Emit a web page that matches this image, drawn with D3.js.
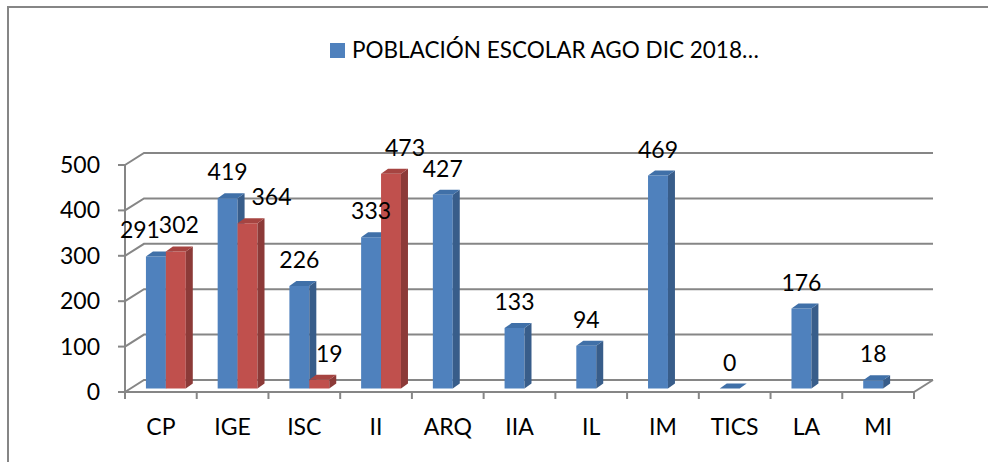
<!DOCTYPE html>
<html>
<head>
<meta charset="utf-8">
<script src="https://cdn.jsdelivr.net/npm/d3@7"></script>
<style>
  html, body { margin: 0; padding: 0; background: #fff; overflow: hidden; }
  svg { display: block; }
  text { font-family: Lato, 'Open Sans', sans-serif; fill: #000; }
</style>
</head>
<body>
<div id="chart"></div>
<script>
// data
const categories = ['CP', 'IGE', 'ISC', 'II', 'ARQ', 'IIA', 'IL', 'IM', 'TICS', 'LA', 'MI'];
const poblacionA = [291, 419, 226, 333, 427, 133, 94, 469, 0, 176, 18];
const poblacionB = [302, 364, 19, 473, null, null, null, null, null, null, null];
const yTicks = [0, 100, 200, 300, 400, 500];
const legendLabel = 'POBLACIÓN ESCOLAR AGO DIC 2018…';

const width = 988;
const height = 462;

// front plane of the 3D box and its depth offset
const x0 = 125, x1 = 914;
const depthX = 19, depthY = -12;
// bars sit inside the depth, with their own thickness
const barOffX = 5, barOffY = -3.5;
const barDepthX = 7, barDepthY = -5;

const grid = '#868686';
const colors = [
  { front: '#4F81BD', side: '#385D8A', top: '#4070A8' },
  { front: '#C0504D', side: '#8C3A38', top: '#A64441' }
];

// Excel moved a few labels sideways to avoid overlaps
const labelNudge = { '0-0': -16, '1-0': 3, '1-1': 24, '1-2': 10, '1-3': 14 };

const svg = d3.select('#chart')
  .append('svg')
  .attr('width', width)
  .attr('height', height);

// outer frame, only top and left edges show
svg.append('path')
  .attr('d', `M8,${height} L8,7 L${width},7`)
  .attr('fill', 'none')
  .attr('stroke', grid)
  .attr('stroke-width', 2);

const x = d3.scaleBand()
  .domain(categories)
  .range([x0, x1])
  .paddingInner(0)
  .paddingOuter(0);

const xs = d3.scaleBand()
  .domain([0, 1])
  .range([0, x.bandwidth()])
  .paddingInner(0)
  .paddingOuter(0.8);

const y = d3.scaleLinear()
  .domain([0, 500])
  .range([392, 165]);

const g = svg.append('g');

// gridlines: left wall diagonal + back wall horizontal
yTicks.forEach(t => {
  const yy = y(t);
  g.append('path')
    .attr('d', `M${x0},${yy} L${x0 + depthX},${yy + depthY} L${x1 + depthX},${yy + depthY}`)
    .attr('fill', 'none')
    .attr('stroke', grid)
    .attr('stroke-width', 2);
  // tick on the y axis
  g.append('line')
    .attr('x1', x0 - 7).attr('x2', x0)
    .attr('y1', yy).attr('y2', yy)
    .attr('stroke', grid).attr('stroke-width', 2);
});

// vertical axis line
g.append('line')
  .attr('x1', x0).attr('x2', x0)
  .attr('y1', y(500)).attr('y2', y(0) + 7)
  .attr('stroke', grid).attr('stroke-width', 2);

// floor front edge and right edge
g.append('path')
  .attr('d', `M${x0},${y(0)} L${x1},${y(0)} L${x1 + depthX},${y(0) + depthY}`)
  .attr('fill', 'none')
  .attr('stroke', grid)
  .attr('stroke-width', 2);

// category ticks
const tickXs = categories.map(c => x(c)).concat([x1]);
g.selectAll('.xtick')
  .data(tickXs)
  .enter()
  .append('line')
  .attr('class', 'xtick')
  .attr('x1', d => d).attr('x2', d => d)
  .attr('y1', y(0)).attr('y2', y(0) + 7)
  .attr('stroke', grid).attr('stroke-width', 2);

// y labels
g.selectAll('.ylab')
  .data(yTicks)
  .enter()
  .append('text')
  .attr('class', 'ylab')
  .attr('x', 100)
  .attr('y', d => y(d))
  .attr('dy', '0.35em')
  .attr('text-anchor', 'end')
  .style('font-size', '23px')
  .text(d => d);

// x labels
g.selectAll('.xlab')
  .data(categories)
  .enter()
  .append('text')
  .attr('class', 'xlab')
  .attr('x', d => x(d) + x.bandwidth() / 2)
  .attr('y', 435)
  .attr('text-anchor', 'middle')
  .style('font-size', '23px')
  .text(d => d);

// bars
const bars = [];
categories.forEach((c, i) => {
  [poblacionA, poblacionB].forEach((s, k) => {
    const v = s[i];
    if (v === null || v === undefined) return;
    bars.push({ cat: c, i, k, v });
  });
});

const barG = g.selectAll('.bar')
  .data(bars)
  .enter()
  .append('g')
  .attr('class', 'bar');

const bw = xs.bandwidth();

function geom(d) {
  const left = x(d.cat) + xs(d.k) + barOffX;
  const right = left + bw;
  const bottom = y(0) + barOffY;
  const top = y(d.v) + barOffY;
  return { left, right, bottom, top };
}

barG.append('path')
  .attr('d', d => {
    const b = geom(d);
    return `M${b.left},${b.bottom} L${b.left},${b.top} L${b.right},${b.top} L${b.right},${b.bottom} Z`;
  })
  .attr('fill', d => colors[d.k].front);

barG.append('path')
  .attr('d', d => {
    const b = geom(d);
    return `M${b.right},${b.bottom} L${b.right},${b.top} L${b.right + barDepthX},${b.top + barDepthY} L${b.right + barDepthX},${b.bottom + barDepthY} Z`;
  })
  .attr('fill', d => colors[d.k].side);

barG.append('path')
  .attr('d', d => {
    const b = geom(d);
    return `M${b.left},${b.top} L${b.left + barDepthX},${b.top + barDepthY} L${b.right + barDepthX},${b.top + barDepthY} L${b.right},${b.top} Z`;
  })
  .attr('fill', d => colors[d.k].top);

// data labels
g.selectAll('.dlab')
  .data(bars)
  .enter()
  .append('text')
  .attr('class', 'dlab')
  .attr('x', d => {
    const b = geom(d);
    return (b.left + b.right) / 2 + (labelNudge[`${d.k}-${d.i}`] || 0);
  })
  .attr('y', d => geom(d).top - 18)
  .attr('text-anchor', 'middle')
  .style('font-size', '23px')
  .text(d => d.v);

// legend
const legend = svg.append('g').attr('transform', 'translate(330, 43)');
legend.append('rect')
  .attr('width', 15).attr('height', 15)
  .attr('fill', colors[0].front);
legend.append('text')
  .attr('x', 22)
  .attr('y', 15)
  .style('font-size', '22.5px')
  .text(legendLabel);
</script>
</body>
</html>
